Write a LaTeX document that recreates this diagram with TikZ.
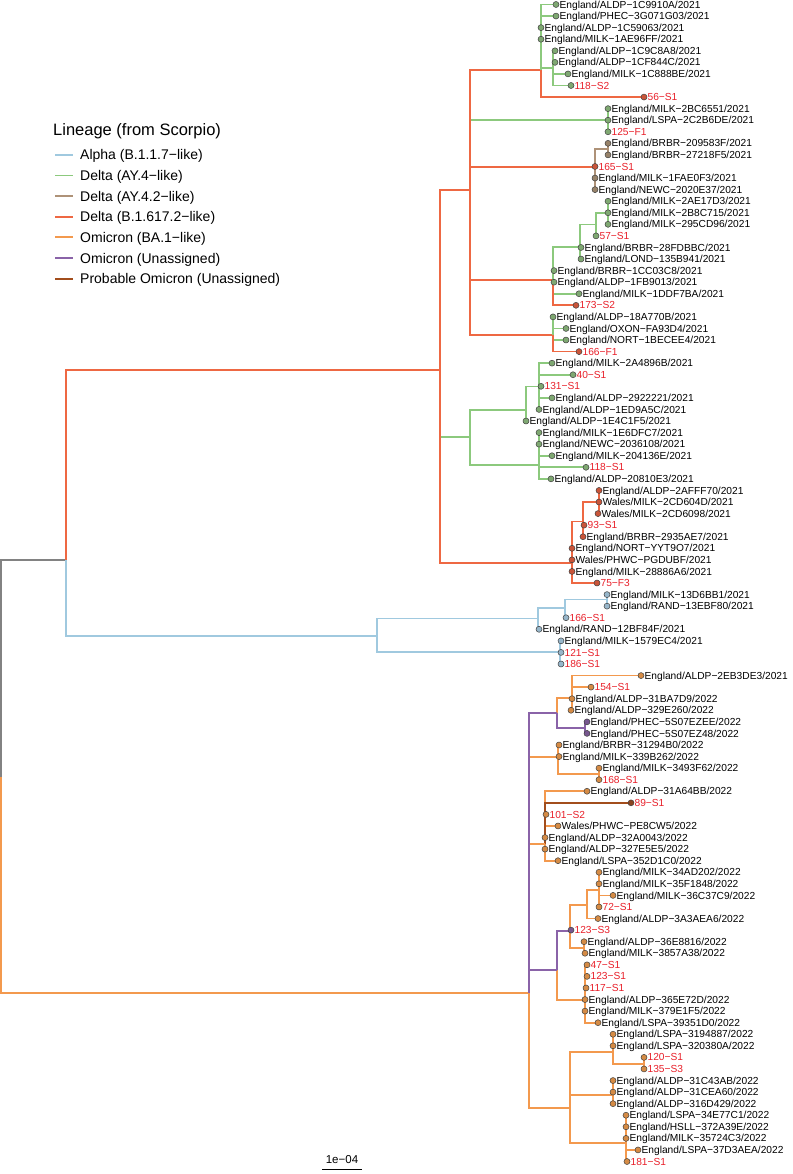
\documentclass[tikz,border=0pt]{standalone}
\usepackage{fontspec}
\setmainfont{Liberation Sans}
\definecolor{cG}{HTML}{8CC97D}
\definecolor{cT}{HTML}{AE9278}
\definecolor{cR}{HTML}{EE6843}
\definecolor{cB}{HTML}{A0C9DF}
\definecolor{cO}{HTML}{F3994E}
\definecolor{cP}{HTML}{8A63A8}
\definecolor{cD}{HTML}{A24D1C}
\definecolor{cK}{HTML}{828282}
\definecolor{fG}{HTML}{7FA872}
\definecolor{fT}{HTML}{978269}
\definecolor{fR}{HTML}{C9553A}
\definecolor{fB}{HTML}{97B6CA}
\definecolor{fO}{HTML}{D58B45}
\definecolor{fP}{HTML}{77578F}
\definecolor{fD}{HTML}{8A4420}
\definecolor{lcr}{HTML}{E8202A}
\definecolor{lck}{HTML}{000000}
\tikzset{
  br/.style={line width=1.7pt},
  eG/.style={br,draw=cG}, eT/.style={br,draw=cT}, eR/.style={br,draw=cR},
  eB/.style={br,draw=cB}, eO/.style={br,draw=cO}, eP/.style={br,draw=cP},
  eD/.style={br,draw=cD}, eK/.style={br,draw=cK},
  tp/.style={circle,draw=black!75,line width=0.5pt,inner sep=0pt,minimum size=6pt},
  tpG/.style={tp,fill=fG}, tpT/.style={tp,fill=fT}, tpR/.style={tp,fill=fR},
  tpB/.style={tp,fill=fB}, tpO/.style={tp,fill=fO}, tpP/.style={tp,fill=fP},
  tpD/.style={tp,fill=fD},
  lab/.style={anchor=base west,inner sep=0pt,font=\fontsize{10.2}{12}\selectfont},
  legt/.style={anchor=base west,inner sep=0pt,font=\fontsize{16.5}{19}\selectfont},
  legi/.style={anchor=base west,inner sep=0pt,font=\fontsize{14}{16}\selectfont},
  legl/.style={line width=1.8pt}
}
\newcommand\TipCoord[5]{\coordinate (t#1) at (#2,{4.5+(#1-1)*11.57});}
\newcommand\TipDraw[5]{\node[tp#3] (c#1) at (t#1) {};
  \node[lab,text=lc#5] (l#1) at ([xshift=3.4pt,yshift=-3.6pt]t#1) {#4};}
\newcommand\Edge[3]{\draw[e#1] (#2) |- (#3);}
\newcommand\TipList{%
\T{1}{556}{G}{England/ALDP−1C9910A/2021}{k}
\T{2}{556}{G}{England/PHEC−3G071G03/2021}{k}
\T{3}{541}{G}{England/ALDP−1C59063/2021}{k}
\T{4}{541}{G}{England/MILK−1AE96FF/2021}{k}
\T{5}{555}{G}{England/ALDP−1C9C8A8/2021}{k}
\T{6}{555}{G}{England/ALDP−1CF844C/2021}{k}
\T{7}{568}{G}{England/MILK−1C888BE/2021}{k}
\T{8}{571}{G}{118−S2}{r}
\T{9}{644}{R}{56−S1}{r}
\T{10}{608}{G}{England/MILK−2BC6551/2021}{k}
\T{11}{608}{G}{England/LSPA−2C2B6DE/2021}{k}
\T{12}{608}{G}{125−F1}{r}
\T{13}{608}{T}{England/BRBR−209583F/2021}{k}
\T{14}{608}{T}{England/BRBR−27218F5/2021}{k}
\T{15}{595}{R}{165−S1}{r}
\T{16}{595}{T}{England/MILK−1FAE0F3/2021}{k}
\T{17}{595}{T}{England/NEWC−2020E37/2021}{k}
\T{18}{608}{G}{England/MILK−2AE17D3/2021}{k}
\T{19}{608}{G}{England/MILK−2B8C715/2021}{k}
\T{20}{608}{G}{England/MILK−295CD96/2021}{k}
\T{21}{596}{G}{57−S1}{r}
\T{22}{581}{G}{England/BRBR−28FDBBC/2021}{k}
\T{23}{581}{G}{England/LOND−135B941/2021}{k}
\T{24}{554}{G}{England/BRBR−1CC03C8/2021}{k}
\T{25}{554}{G}{England/ALDP−1FB9013/2021}{k}
\T{26}{579}{G}{England/MILK−1DDF7BA/2021}{k}
\T{27}{576}{R}{173−S2}{r}
\T{28}{553}{G}{England/ALDP−18A770B/2021}{k}
\T{29}{566}{G}{England/OXON−FA93D4/2021}{k}
\T{30}{566}{G}{England/NORT−1BECEE4/2021}{k}
\T{31}{579}{R}{166−F1}{r}
\T{32}{552}{G}{England/MILK−2A4896B/2021}{k}
\T{33}{573}{G}{40−S1}{r}
\T{34}{541}{G}{131−S1}{r}
\T{35}{552}{G}{England/ALDP−2922221/2021}{k}
\T{36}{539}{G}{England/ALDP−1ED9A5C/2021}{k}
\T{37}{526}{G}{England/ALDP−1E4C1F5/2021}{k}
\T{38}{539}{G}{England/MILK−1E6DFC7/2021}{k}
\T{39}{539}{G}{England/NEWC−2036108/2021}{k}
\T{40}{552}{G}{England/MILK−204136E/2021}{k}
\T{41}{586}{G}{118−S1}{r}
\T{42}{551}{G}{England/ALDP−20810E3/2021}{k}
\T{43}{599}{R}{England/ALDP−2AFFF70/2021}{k}
\T{44}{599}{R}{Wales/MILK−2CD604D/2021}{k}
\T{45}{598}{R}{Wales/MILK−2CD6098/2021}{k}
\T{46}{584}{R}{93−S1}{r}
\T{47}{583}{R}{England/BRBR−2935AE7/2021}{k}
\T{48}{572}{R}{England/NORT−YYT9O7/2021}{k}
\T{49}{572}{R}{Wales/PHWC−PGDUBF/2021}{k}
\T{50}{572}{R}{England/MILK−28886A6/2021}{k}
\T{51}{597}{R}{75−F3}{r}
\T{52}{607}{B}{England/MILK−13D6BB1/2021}{k}
\T{53}{607}{B}{England/RAND−13EBF80/2021}{k}
\T{54}{566}{B}{166−S1}{r}
\T{55}{539}{B}{England/RAND−12BF84F/2021}{k}
\T{56}{561}{B}{England/MILK−1579EC4/2021}{k}
\T{57}{561}{B}{121−S1}{r}
\T{58}{561}{B}{186−S1}{r}
\T{59}{641}{O}{England/ALDP−2EB3DE3/2021}{k}
\T{60}{591}{O}{154−S1}{r}
\T{61}{572}{O}{England/ALDP−31BA7D9/2022}{k}
\T{62}{571}{O}{England/ALDP−329E260/2022}{k}
\T{63}{587}{P}{England/PHEC−5S07EZEE/2022}{k}
\T{64}{587}{P}{England/PHEC−5S07EZ48/2022}{k}
\T{65}{559}{O}{England/BRBR−31294B0/2022}{k}
\T{66}{559}{O}{England/MILK−339B262/2022}{k}
\T{67}{599}{O}{England/MILK−3493F62/2022}{k}
\T{68}{599}{O}{168−S1}{r}
\T{69}{587}{O}{England/ALDP−31A64BB/2022}{k}
\T{70}{631}{D}{89−S1}{r}
\T{71}{546}{O}{101−S2}{r}
\T{72}{558}{O}{Wales/PHWC−PE8CW5/2022}{k}
\T{73}{545}{O}{England/ALDP−32A0043/2022}{k}
\T{74}{545}{O}{England/ALDP−327E5E5/2022}{k}
\T{75}{558}{O}{England/LSPA−352D1C0/2022}{k}
\T{76}{599}{O}{England/MILK−34AD202/2022}{k}
\T{77}{599}{O}{England/MILK−35F1848/2022}{k}
\T{78}{613}{O}{England/MILK−36C37C9/2022}{k}
\T{79}{599}{O}{72−S1}{r}
\T{80}{598}{O}{England/ALDP−3A3AEA6/2022}{k}
\T{81}{571}{P}{123−S3}{r}
\T{82}{584}{O}{England/ALDP−36E8816/2022}{k}
\T{83}{585}{O}{England/MILK−3857A38/2022}{k}
\T{84}{587}{O}{47−S1}{r}
\T{85}{587}{O}{123−S1}{r}
\T{86}{586}{O}{117−S1}{r}
\T{87}{585}{O}{England/ALDP−365E72D/2022}{k}
\T{88}{585}{O}{England/MILK−379E1F5/2022}{k}
\T{89}{598}{O}{England/LSPA−39351D0/2022}{k}
\T{90}{613}{O}{England/LSPA−3194887/2022}{k}
\T{91}{613}{O}{England/LSPA−320380A/2022}{k}
\T{92}{644}{O}{120−S1}{r}
\T{93}{644}{O}{135−S3}{r}
\T{94}{613}{O}{England/ALDP−31C43AB/2022}{k}
\T{95}{613}{O}{England/ALDP−31CEA60/2022}{k}
\T{96}{613}{O}{England/ALDP−316D429/2022}{k}
\T{97}{626}{O}{England/LSPA−34E77C1/2022}{k}
\T{98}{626}{O}{England/HSLL−372A39E/2022}{k}
\T{99}{626}{O}{England/MILK−35724C3/2022}{k}
\T{100}{638}{O}{England/LSPA−37D3AEA/2022}{k}
\T{101}{627}{O}{181−S1}{r}
}
\begin{document}
\begin{tikzpicture}[x=1pt,y=-1pt]
\useasboundingbox (0,0) rectangle (792,1174);
\let\T\TipCoord \TipList
% internal nodes
\coordinate (G1) at (541,36.3);
\coordinate (a2) at (553,68.2);
\coordinate (P1) at (541,70);
\coordinate (c10) at (608,120.2);
\coordinate (cT) at (608,149.1);
\coordinate (Q) at (595,167);
\coordinate (c18) at (608,212.8);
\coordinate (R2) at (596,224.4);
\coordinate (R) at (580,247);
\coordinate (G2) at (553,272.6);
\coordinate (S) at (553,280);
\coordinate (G3) at (553,328.4);
\coordinate (Tn) at (553,335);
\coordinate (X) at (470,190);
\coordinate (V) at (539,386.4);
\coordinate (U) at (526,410);
\coordinate (W) at (539,465);
\coordinate (M) at (470,437);
\coordinate (r1) at (599,502.2);
\coordinate (r2) at (583,521.5);
\coordinate (r3) at (572,563);
\coordinate (nD) at (440,370);
\coordinate (ac) at (607,599.5);
\coordinate (A3) at (565,608);
\coordinate (A1) at (538,618.6);
\coordinate (A2) at (560,652);
\coordinate (nA) at (377,636);
\coordinate (nDA) at (66,560);
\coordinate (o59) at (572,698);
\coordinate (cP) at (585,728);
\coordinate (o1) at (557,713);
\coordinate (c67) at (599,774.3);
\coordinate (o2) at (558,757);
\coordinate (o3) at (545,844);
\coordinate (c76) at (599,890.2);
\coordinate (c76b) at (587,904.7);
\coordinate (c82) at (584,948);
\coordinate (s123) at (570,930.7);
\coordinate (Z) at (585,1000);
\coordinate (o4) at (557,970);
\coordinate (PP) at (529,878);
\coordinate (ch92) at (644,1063.9);
\coordinate (c90) at (613,1052);
\coordinate (c94) at (613,1095);
\coordinate (c97) at (626,1143);
\coordinate (o5) at (570,1108);
\coordinate (nO) at (529,993);
\coordinate (root) at (1,777);
% edges
\Edge{K}{root}{nDA}
\Edge{O}{root}{nO}
\Edge{R}{nDA}{nD}
\Edge{B}{nDA}{nA}
\Edge{G}{nD}{M}
\Edge{R}{nD}{X}
\Edge{R}{nD}{r3}
\Edge{G}{X}{c10}
\Edge{R}{X}{P1}
\Edge{R}{X}{Q}
\Edge{R}{X}{S}
\Edge{R}{X}{Tn}
\Edge{G}{P1}{G1}
\Edge{R}{P1}{t9}
\foreach \i in {1,2,3,4} {\Edge{G}{G1}{t\i}}
\Edge{G}{G1}{a2}
\foreach \i in {5,6,7,8} {\Edge{G}{a2}{t\i}}
\foreach \i in {10,11,12} {\Edge{G}{c10}{t\i}}
\Edge{T}{cT}{t13}
\Edge{T}{cT}{t14}
\Edge{T}{Q}{cT}
\Edge{T}{Q}{t16}
\Edge{T}{Q}{t17}
\Edge{R}{Q}{t15}
\foreach \i in {18,19,20} {\Edge{G}{c18}{t\i}}
\Edge{G}{R2}{c18}
\Edge{G}{R2}{t21}
\Edge{G}{R}{R2}
\Edge{G}{R}{t22}
\Edge{G}{R}{t23}
\Edge{G}{G2}{R}
\foreach \i in {24,25,26} {\Edge{G}{G2}{t\i}}
\Edge{G}{S}{G2}
\Edge{R}{S}{t27}
\foreach \i in {28,29,30} {\Edge{G}{G3}{t\i}}
\Edge{G}{Tn}{G3}
\Edge{R}{Tn}{t31}
\foreach \i in {32,...,36} {\Edge{G}{V}{t\i}}
\Edge{G}{U}{V}
\Edge{G}{U}{t37}
\foreach \i in {38,...,42} {\Edge{G}{W}{t\i}}
\Edge{G}{M}{U}
\Edge{G}{M}{W}
\foreach \i in {43,44,45} {\Edge{R}{r1}{t\i}}
\Edge{R}{r2}{r1}
\Edge{R}{r2}{t46}
\Edge{R}{r2}{t47}
\Edge{R}{r3}{r2}
\foreach \i in {48,...,51} {\Edge{R}{r3}{t\i}}
\Edge{B}{ac}{t52}
\Edge{B}{ac}{t53}
\Edge{B}{A3}{ac}
\Edge{B}{A3}{t54}
\Edge{B}{A1}{A3}
\Edge{B}{A1}{t55}
\foreach \i in {56,57,58} {\Edge{B}{A2}{t\i}}
\Edge{B}{nA}{A1}
\Edge{B}{nA}{A2}
% omicron
\foreach \i in {59,...,62} {\Edge{O}{o59}{t\i}}
\Edge{P}{cP}{t63}
\Edge{P}{cP}{t64}
\Edge{O}{o1}{o59}
\Edge{P}{o1}{cP}
\Edge{O}{c67}{t67}
\Edge{O}{c67}{t68}
\Edge{O}{o2}{t65}
\Edge{O}{o2}{t66}
\Edge{O}{o2}{c67}
\Edge{O}{o3}{t69}
\foreach \i in {71,...,75} {\Edge{O}{o3}{t\i}}
\Edge{D}{o3}{t70}
\foreach \i in {76,...,79} {\Edge{O}{c76}{t\i}}
\Edge{O}{c76b}{c76}
\Edge{O}{c76b}{t80}
\Edge{O}{c82}{t82}
\Edge{O}{c82}{t83}
\Edge{O}{s123}{c76b}
\Edge{O}{s123}{c82}
\Edge{P}{s123}{t81}
\foreach \i in {84,...,89} {\Edge{O}{Z}{t\i}}
\Edge{P}{o4}{s123}
\Edge{O}{o4}{Z}
\Edge{O}{PP}{o2}
\Edge{O}{PP}{o3}
\Edge{P}{PP}{o1}
\Edge{P}{PP}{o4}
\Edge{O}{ch92}{t92}
\Edge{O}{ch92}{t93}
\Edge{O}{c90}{t90}
\Edge{O}{c90}{t91}
\Edge{O}{c90}{ch92}
\foreach \i in {94,95,96} {\Edge{O}{c94}{t\i}}
\foreach \i in {97,...,101} {\Edge{O}{c97}{t\i}}
\Edge{O}{o5}{c90}
\Edge{O}{o5}{c94}
\Edge{O}{o5}{c97}
\Edge{P}{nO}{PP}
\Edge{O}{nO}{o5}
% tips
\let\T\TipDraw \TipList
% legend
\node[legt] (legtitle) at (53,136) {Lineage (from Scorpio)};
\foreach \c/\txt [count=\k from 0] in {B/Alpha (B.1.1.7−like),G/Delta (AY.4−like),T/Delta (AY.4.2−like),R/Delta (B.1.617.2−like),O/Omicron (BA.1−like),P/Omicron (Unassigned),D/Probable Omicron (Unassigned)} {
  \coordinate (lk\k a) at (55,{155+\k*20.6});
  \coordinate (lk\k b) at (73,{155+\k*20.6});
  \draw[legl,draw=c\c] (lk\k a) -- (lk\k b);
  \node[legi] (lt\k) at (80,{160+\k*20.6}) {\txt};
}
% scale bar
\coordinate (sba) at (322,1169);
\coordinate (sbb) at (362,1169);
\draw[line width=0.8pt] (sba) -- (sbb);
\node[anchor=base,inner sep=0pt,font=\fontsize{11.5}{13}\selectfont] (sbl) at (342,1163) {1e−04};
\end{tikzpicture}
\end{document}
